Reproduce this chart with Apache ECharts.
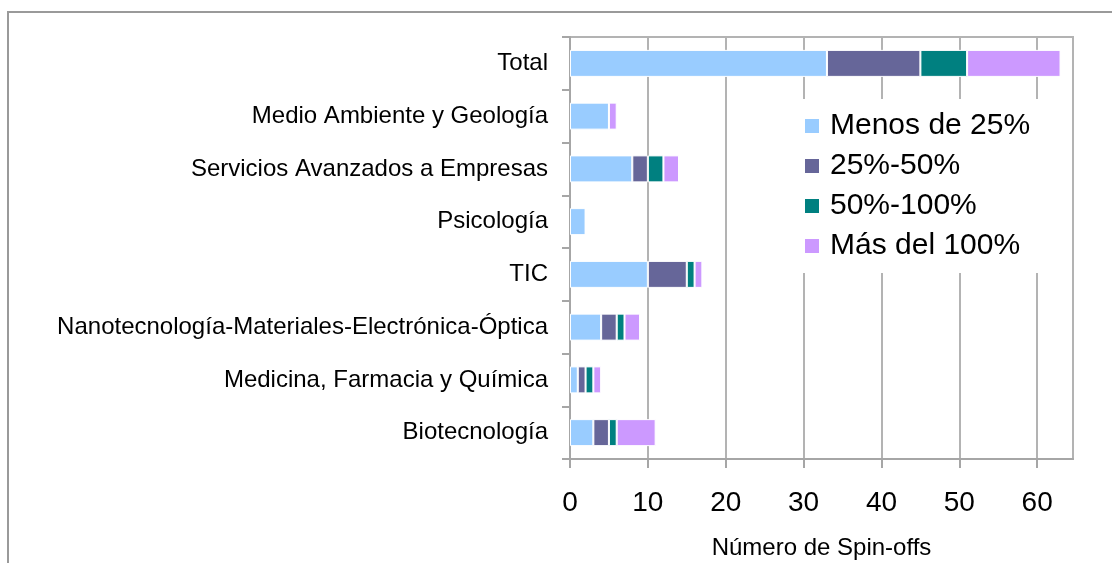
<!DOCTYPE html>
<html>
<head>
<meta charset="utf-8">
<script src="https://cdn.jsdelivr.net/npm/echarts@6/dist/echarts.min.js"></script>
<style>
  html, body { margin: 0; padding: 0; background: #fff; }
  #main { width: 1112px; height: 563px; }
</style>
</head>
<body>
<div id="main"></div>
<script>
// categories listed bottom to top, like the original spreadsheet
var categories = [
    'Biotecnología',
    'Medicina, Farmacia y Química',
    'Nanotecnología-Materiales-Electrónica-Óptica',
    'TIC',
    'Psicología',
    'Servicios Avanzados a Empresas',
    'Medio Ambiente y Geología',
    'Total'
];
var seriesNames = ['Menos de 25%', '25%-50%', '50%-100%', 'Más del 100%'];
var menos25 = [3, 1, 4, 10, 2, 8, 5, 33];
var de25a50 = [2, 1, 2, 5, 0, 2, 0, 12];
var de50a100 = [1, 1, 1, 1, 0, 2, 0, 6];
var mas100 = [5, 1, 2, 1, 0, 2, 1, 12];
var xTicks = [0, 10, 20, 30, 40, 50, 60];
var colors = ['#99ccff', '#666699', '#008080', '#cc99ff'];

var plainFont = "'Liberation Sans', Arial, sans-serif";

var myChart = echarts.init(document.getElementById('main'));

function makeSeries(name, values, color) {
    return {
        name: name,
        type: 'bar',
        stack: 'total',
        barWidth: 27,
        data: values,
        itemStyle: {
            color: color,
            borderColor: '#ffffff',
            borderWidth: 1
        }
    };
}

var option = {
    backgroundColor: '#ffffff',
    animation: false,
    color: colors,
    graphic: [{
        type: 'rect',
        z: -10,
        shape: { x: 8, y: 12, width: 1300, height: 700 },
        style: { fill: null, stroke: '#9a9a9a', lineWidth: 2 }
    }],
    grid: {
        left: 570,
        right: 39,
        top: 37,
        bottom: 104,
        show: true,
        borderColor: '#b3b3b3',
        borderWidth: 2,
        containLabel: false,
        outerBoundsMode: 'none'
    },
    legend: {
        orient: 'vertical',
        left: 797,
        top: 99,
        padding: [12, 20, 12, 8],
        backgroundColor: '#ffffff',
        itemWidth: 14,
        itemHeight: 14,
        itemGap: 10,
        icon: 'rect',
        itemStyle: { borderWidth: 0 },
        textStyle: {
            fontFamily: plainFont,
            fontSize: 30,
            color: '#000000',
            padding: [0, 0, 0, 6]
        },
        data: seriesNames
    },
    xAxis: {
        type: 'value',
        min: 0,
        max: 64.6,
        interval: 10,
        name: 'Número de Spin-offs',
        nameLocation: 'middle',
        nameGap: 77,
        nameTextStyle: {
            fontFamily: plainFont,
            fontSize: 24,
            color: '#000000'
        },
        axisLine: { show: true, lineStyle: { color: '#a6a6a6', width: 2 } },
        axisTick: {
            show: true,
            length: 9,
            customValues: xTicks,
            lineStyle: { color: '#a6a6a6', width: 2 }
        },
        axisLabel: {
            customValues: xTicks,
            margin: 30,
            fontFamily: plainFont,
            fontSize: 28,
            color: '#000000'
        },
        splitLine: { show: true, lineStyle: { color: '#b3b3b3', width: 2 } }
    },
    yAxis: {
        type: 'category',
        data: categories,
        axisLine: { show: true, lineStyle: { color: '#a6a6a6', width: 2 } },
        axisTick: {
            show: true,
            length: 8,
            alignWithLabel: false,
            lineStyle: { color: '#a6a6a6', width: 2 }
        },
        axisLabel: {
            margin: 22,
            fontFamily: plainFont,
            fontSize: 24,
            color: '#000000'
        },
        splitLine: { show: false }
    },
    series: [
        makeSeries(seriesNames[0], menos25, colors[0]),
        makeSeries(seriesNames[1], de25a50, colors[1]),
        makeSeries(seriesNames[2], de50a100, colors[2]),
        makeSeries(seriesNames[3], mas100, colors[3])
    ]
};

myChart.setOption(option);
</script>
</body>
</html>
